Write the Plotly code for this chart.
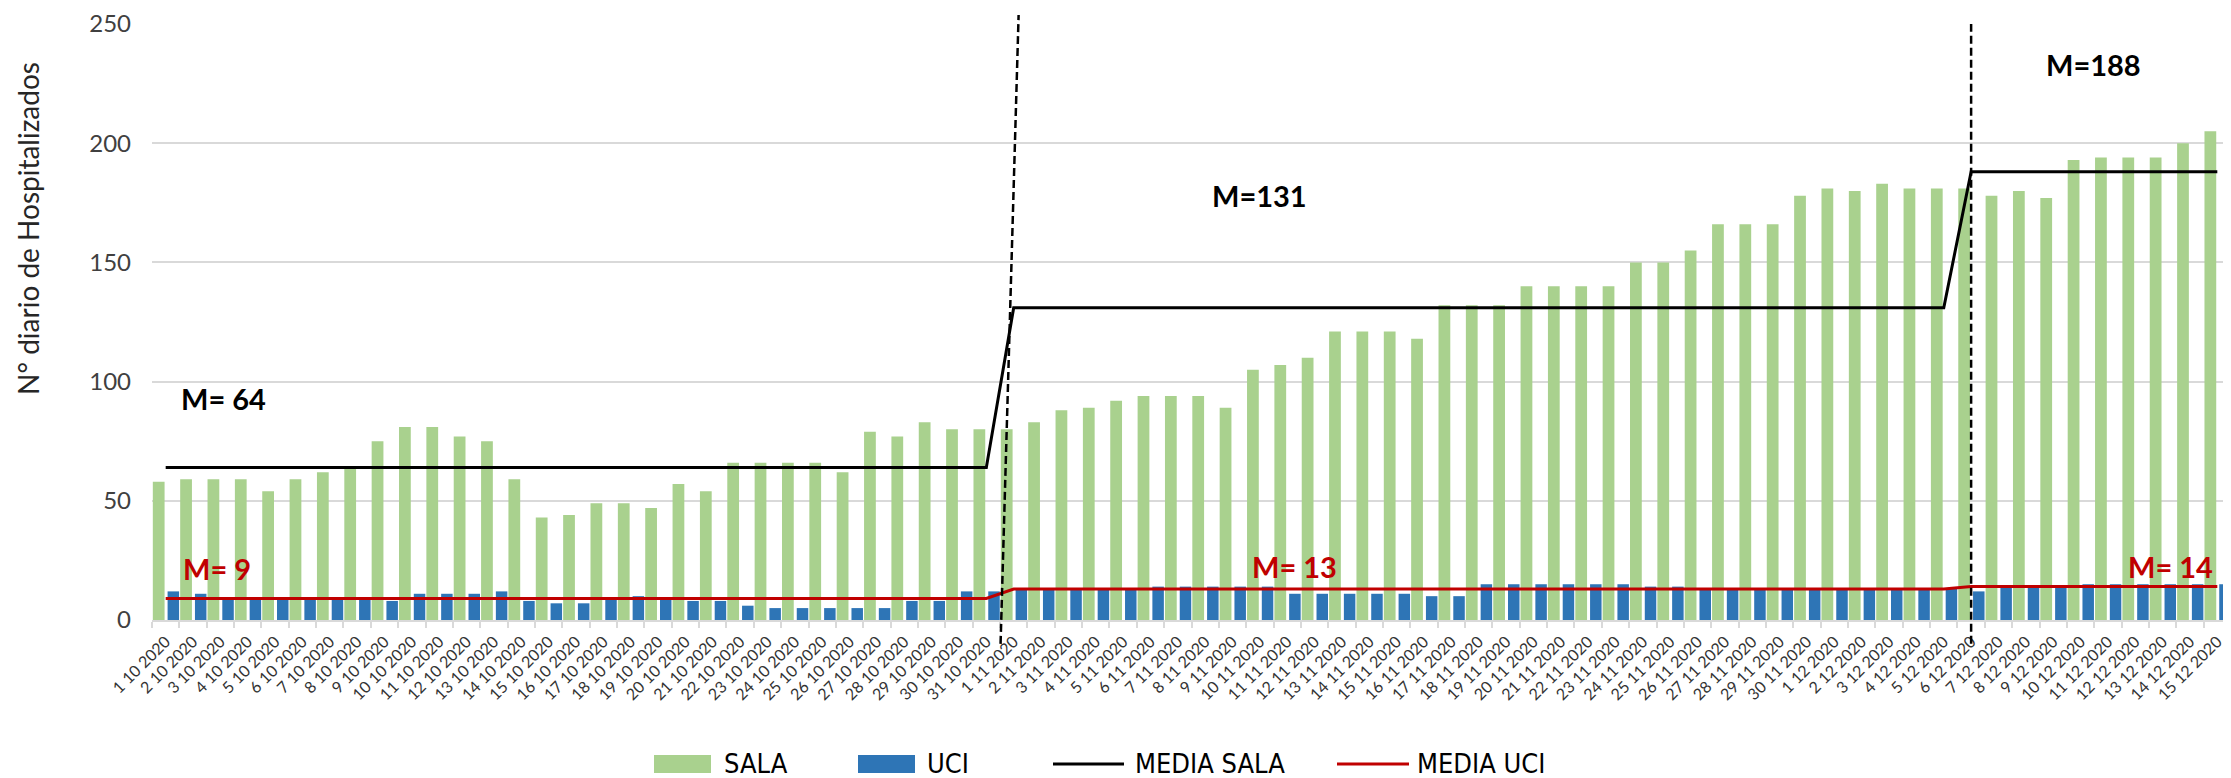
import plotly.graph_objects as go

# ---------------- data ----------------
fechas_oct = ["1 10 2020", "2 10 2020", "3 10 2020", "4 10 2020", "5 10 2020", "6 10 2020",
              "7 10 2020", "8 10 2020", "9 10 2020", "10 10 2020", "11 10 2020", "12 10 2020",
              "13 10 2020", "14 10 2020", "15 10 2020", "16 10 2020", "17 10 2020", "18 10 2020",
              "19 10 2020", "20 10 2020", "21 10 2020", "22 10 2020", "23 10 2020", "24 10 2020",
              "25 10 2020", "26 10 2020", "27 10 2020", "28 10 2020", "29 10 2020", "30 10 2020",
              "31 10 2020"]
fechas_nov = ["1 11 2020", "2 11 2020", "3 11 2020", "4 11 2020", "5 11 2020", "6 11 2020",
              "7 11 2020", "8 11 2020", "9 11 2020", "10 11 2020", "11 11 2020", "12 11 2020",
              "13 11 2020", "14 11 2020", "15 11 2020", "16 11 2020", "17 11 2020", "18 11 2020",
              "19 11 2020", "20 11 2020", "21 11 2020", "22 11 2020", "23 11 2020", "24 11 2020",
              "25 11 2020", "26 11 2020", "27 11 2020", "28 11 2020", "29 11 2020", "30 11 2020"]
fechas_dic = ["1 12 2020", "2 12 2020", "3 12 2020", "4 12 2020", "5 12 2020", "6 12 2020",
              "7 12 2020", "8 12 2020", "9 12 2020", "10 12 2020", "11 12 2020", "12 12 2020",
              "13 12 2020", "14 12 2020", "15 12 2020"]

sala_oct = [58, 59, 59, 59, 54, 59, 62, 64, 75, 81, 81, 77, 75, 59, 43, 44, 49, 49, 47, 57,
            54, 66, 66, 66, 66, 62, 79, 77, 83, 80, 80]
sala_nov = [80, 83, 88, 89, 92, 94, 94, 94, 89, 105, 107, 110, 121, 121, 121, 118, 132, 132,
            132, 140, 140, 140, 140, 150, 150, 155, 166, 166, 166, 178]
sala_dic = [181, 180, 183, 181, 181, 181, 178, 180, 177, 193, 194, 194, 194, 200, 205]

uci_oct = [12, 11, 9, 9, 9, 9, 9, 9, 8, 11, 11, 11, 12, 8, 7, 7, 9, 10, 9, 8,
           8, 6, 5, 5, 5, 5, 5, 8, 8, 12, 12]
uci_nov = [13, 13, 13, 13, 13, 14, 14, 14, 14, 14, 11, 11, 11, 11, 11, 10, 10, 15,
           15, 15, 15, 15, 15, 14, 14, 13, 13, 13, 13, 13]
uci_dic = [13, 13, 13, 13, 13, 12, 14, 14, 14, 15, 15, 15, 15, 15, 15]

media_sala = [64, 64, 64, 64, 64, 64, 64, 64, 64, 64, 64, 64, 64, 64, 64, 64,
              64, 64, 64, 64, 64, 64, 64, 64, 64, 64, 64, 64, 64, 64, 64,
              131, 131, 131, 131, 131, 131, 131, 131, 131, 131, 131, 131, 131, 131, 131, 131, 131, 131,
              131, 131, 131, 131, 131, 131, 131, 131, 131, 131, 131, 131, 131, 131, 131, 131, 131,
              188, 188, 188, 188, 188, 188, 188, 188, 188, 188]
media_uci = [9, 9, 9, 9, 9, 9, 9, 9, 9, 9, 9, 9, 9, 9, 9, 9,
             9, 9, 9, 9, 9, 9, 9, 9, 9, 9, 9, 9, 9, 9, 9,
             13, 13, 13, 13, 13, 13, 13, 13, 13, 13, 13, 13, 13, 13, 13, 13, 13, 13,
             13, 13, 13, 13, 13, 13, 13, 13, 13, 13, 13, 13, 13, 13, 13, 13, 13,
             14, 14, 14, 14, 14, 14, 14, 14, 14, 14]

cortes = ["1 11 2020", "6 12 2020"]
etiquetas_sala = ["M= 64", "M=131", "M=188"]
etiquetas_uci = ["M= 9", "M= 13", "M= 14"]
y_ticks = [0, 50, 100, 150, 200, 250]

fechas = fechas_oct + fechas_nov + fechas_dic
sala = sala_oct + sala_nov + sala_dic
uci = uci_oct + uci_nov + uci_dic

# ---------------- style ----------------
OFF = 8                      # default body margin of the html page
W, H = 2231 - OFF, 778 - OFF
ML, MR, MT, MB = 152 - OFF, 0, 24 - OFF, 158
PW, PH = W - ML - MR, H - MT - MB
VERDE = "#A9D18E"
AZUL = "#2E75B6"
ROJO = "#C00000"
GRIS = "#D9D9D9"
FONT = "Lato, Open Sans, sans-serif"
NARROW = "Liberation Sans Narrow, DejaVu Sans Condensed, Lato, sans-serif"


def px_x(p):
    # window pixel -> paper x
    return (p - OFF - ML) / PW


def px_y(p):
    # window pixel -> paper y
    return (H - MB - (p - OFF)) / PH


fig = go.Figure()
fig.add_trace(go.Bar(x=fechas, y=sala, name="SALA", marker=dict(color=VERDE, line=dict(width=0)),
                     width=0.43, offset=-0.47, showlegend=False))
fig.add_trace(go.Bar(x=fechas, y=uci, name="UCI", marker=dict(color=AZUL, line=dict(width=0)),
                     width=0.42, offset=0.07, showlegend=False))
fig.add_trace(go.Scatter(x=fechas, y=media_sala, name="MEDIA SALA", mode="lines",
                         line=dict(color="black", width=3), showlegend=False))
fig.add_trace(go.Scatter(x=fechas, y=media_uci, name="MEDIA UCI", mode="lines",
                         line=dict(color=ROJO, width=3), showlegend=False))

# vertical dashed separators
i1 = fechas.index(cortes[0])
i2 = fechas.index(cortes[1])
dash = dict(color="black", width=2.5, dash="8px,4px")
fig.add_shape(type="line", xref="x", yref="paper", x0=i1 - 0.48, y0=-0.04, x1=i1 + 0.18, y1=1.015,
              line=dash, layer="above")
fig.add_shape(type="line", xref="x", yref="paper", x0=i2, y0=-0.04, x1=i2, y1=1.0,
              line=dash, layer="above")

# mean labels
pos_sala = [(2.13, 93), (39.97, 178), (70.49, 233)]
pos_uci = [(1.88, 21.4), (41.28, 22.6), (73.27, 22.6)]
for txt, (xx, yy) in zip(etiquetas_sala, pos_sala):
    fig.add_annotation(x=xx, y=yy, xref="x", yref="y", text=f"<b>{txt}</b>", showarrow=False,
                       font=dict(family=FONT, size=29, color="black"))
for txt, (xx, yy) in zip(etiquetas_uci, pos_uci):
    fig.add_annotation(x=xx, y=yy, xref="x", yref="y", text=f"<b>{txt}</b>", showarrow=False,
                       font=dict(family=FONT, size=29, color=ROJO))

# y axis title
fig.add_annotation(x=px_x(28), y=px_y(229), xref="paper", yref="paper",
                   xanchor="center", yanchor="middle",
                   text="N° diario de Hospitalizados", textangle=-90, showarrow=False,
                   font=dict(family=FONT, size=28, color="#262626"))

# custom legend
ly0, ly1, lyc = px_y(755), px_y(773), px_y(763)
leg = [("rect", VERDE, 654, 711, "SALA", 722),
       ("rect", AZUL, 858, 915, "UCI", 925),
       ("line", "black", 1053, 1124, "MEDIA SALA", 1133),
       ("line", ROJO, 1337, 1409, "MEDIA UCI", 1415)]
for kind, col, a, b, txt, tx in leg:
    if kind == "rect":
        fig.add_shape(type="rect", xref="paper", yref="paper", x0=px_x(a), x1=px_x(b),
                      y0=ly0, y1=ly1, fillcolor=col, line=dict(width=0))
    else:
        fig.add_shape(type="line", xref="paper", yref="paper", x0=px_x(a), x1=px_x(b),
                      y0=px_y(764), y1=px_y(764), line=dict(color=col, width=3))
    fig.add_annotation(x=px_x(tx), y=lyc, xref="paper", yref="paper", text=txt, showarrow=False,
                       xanchor="left", yanchor="middle",
                       font=dict(family=NARROW, size=27, color="black"))

fig.update_layout(
    width=W, height=H,
    margin=dict(l=ML, r=MR, t=MT, b=MB, pad=0),
    paper_bgcolor="white", plot_bgcolor="white",
    barmode="overlay",
    showlegend=False,
    xaxis=dict(type="category", range=[-0.5, len(fechas) - 0.5], tickangle=-45,
               tickfont=dict(family=FONT, size=16, color="#333333"),
               showline=True, linecolor=GRIS, linewidth=2, showgrid=False,
               ticks="outside", tickson="boundaries", ticklen=6, tickcolor=GRIS, tickwidth=2,
               ticklabelstandoff=4),
    yaxis=dict(range=[0, 250], tickvals=y_ticks, showgrid=True, gridcolor=GRIS, gridwidth=2,
               zeroline=False, showline=False, ticks="",
               tickfont=dict(family=FONT, size=24, color="#404040"), ticklabelstandoff=20),
)

fig.write_html("out.html")
